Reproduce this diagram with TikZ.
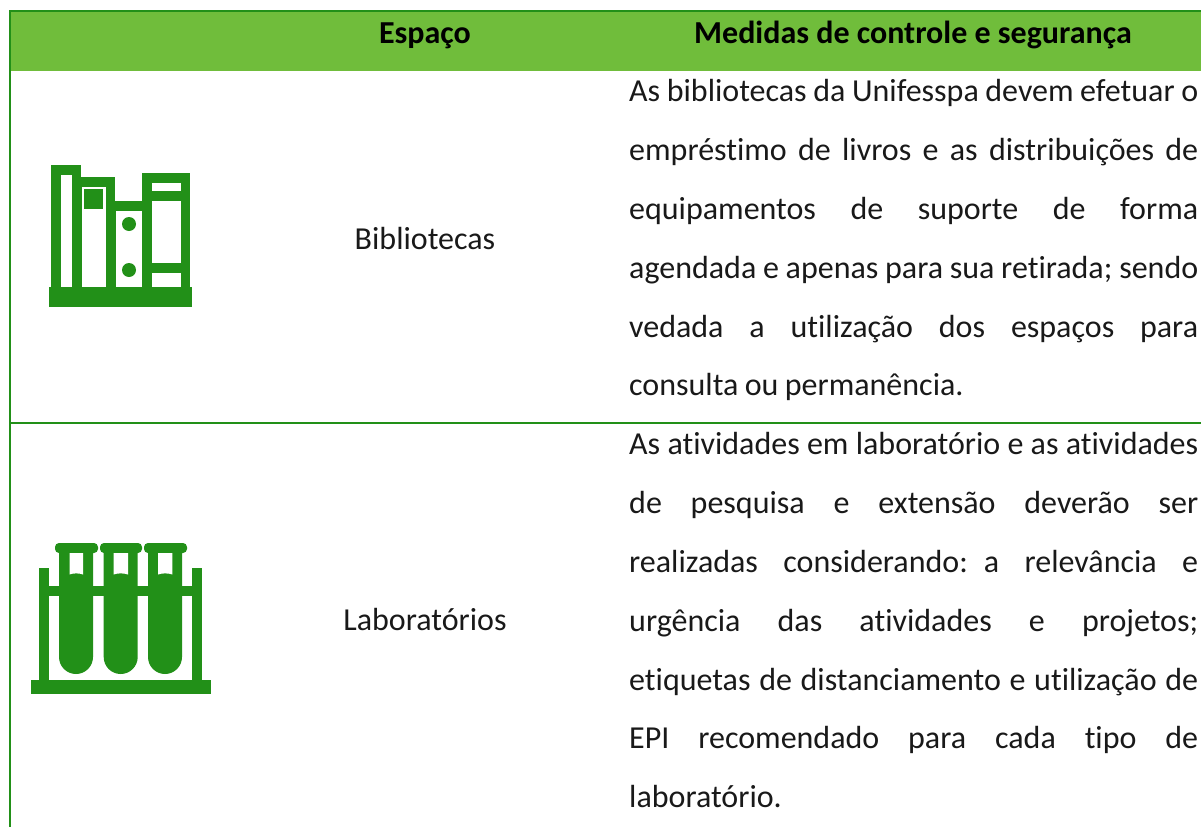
\documentclass[tikz,border=0pt]{standalone}
\usepackage{fontspec}
\setmainfont{Carlito}[Ligatures=CommonOff]
\definecolor{dkgreen}{HTML}{229018}
\definecolor{hdgreen}{HTML}{70BD3B}
\newcommand{\jline}[1]{\hbox to 569pt{\spaceskip=.226em plus 1fil minus .1em\relax #1}}
\newcommand{\lline}[1]{\hbox to 569pt{\spaceskip=.2em\relax #1\hfil}}
\tikzset{
  x=1pt,y=-1pt,
  ink/.style={fill=dkgreen,draw=none},
  hole/.style={fill=white,draw=none},
  head/.style={font=\fontsize{32}{36}\selectfont\bfseries,text=black,inner sep=0pt,anchor=base},
  cell/.style={font=\fontsize{32}{36}\selectfont,text=black!90,inner sep=0pt,anchor=base},
  para/.style={font=\fontsize{32}{58.8}\selectfont,text=black!90,inner sep=0pt,anchor=north west,text width=569pt}
}
\begin{document}
\begin{tikzpicture}
\useasboundingbox[fill=white] (0,0) rectangle (1201,827);
% table
\fill[hdgreen] (11,12) rectangle (1201,71);
\fill[dkgreen] (9,10) rectangle (1201,12);
\fill[dkgreen] (9,10) rectangle (11,827);
\fill[dkgreen] (9,422) rectangle (1201,423.5);
\node[head] (h1) at (425,43) {Espaço};
\node[head] (h2) at (913,43) {Medidas de controle e segurança};
\node[cell] (c1) at (425,249) {Bibliotecas};
\node[cell] (c2) at (425,630.5) {Laboratórios};
\node[para] (p1) at (629,79.5) {%
\jline{As bibliotecas da Unifesspa devem efetuar o}
\jline{empréstimo de livros e as distribuições de}
\jline{equipamentos de suporte de forma}
\jline{agendada e apenas para sua retirada; sendo}
\jline{vedada a utilização dos espaços para}
\lline{consulta ou permanência.}};
\node[para] (p2) at (629,432.5) {%
\jline{As atividades em laboratório e as atividades}
\jline{de pesquisa e extensão deverão ser}
\jline{realizadas considerando: a relevância e}
\jline{urgência das atividades e projetos;}
\jline{etiquetas de distanciamento e utilização de}
\jline{EPI recomendado para cada tipo de}
\lline{laboratório.}};
% books icon
\fill[ink] (49,287) rectangle (192,307);
\fill[ink] (51,165) rectangle (81,287);
\fill[hole] (61,175) rectangle (72,287);
\fill[ink] (81,177) rectangle (115,287);
\fill[hole] (81.5,187) rectangle (106,287);
\fill[ink] (84,189) rectangle (103,209);
\fill[ink] (115,201) rectangle (142,287);
\fill[hole] (116,211) rectangle (142,287);
\fill[ink] (129,224) circle (7);
\fill[ink] (129,270) circle (7);
\fill[ink] (142,173) rectangle (190,287);
\fill[hole] (152,183) rectangle (181,191);
\fill[hole] (152,201) rectangle (181,263);
\fill[hole] (152,273) rectangle (181,287);
% test tubes icon
\fill[ink] (31,680) rectangle (211,694);
\fill[ink] (39,568) rectangle (49,680);
\fill[ink] (192,568) rectangle (202,680);
\fill[ink] (49,586) rectangle (192,596);
\foreach \l/\lipl/\lipr/\wl/\wr in {59/55/98/69.5/83, 103.7/100/142/113.5/128, 148/144/187/158/172.3}{
  \fill[ink] (\l,548) -- (\l,657) arc[start angle=180,end angle=0,radius=17] -- (\l+34,548) -- cycle;
  \fill[ink,rounded corners=4pt] (\lipl,543) rectangle (\lipr,553);
  \fill[hole] (\wl,553) -- (\wr,553) -- (\wr,574.5) .. controls (\wr-4,573) and (\wl+4,573) .. (\wl,574.5) -- cycle;
}
\end{tikzpicture}
\end{document}
